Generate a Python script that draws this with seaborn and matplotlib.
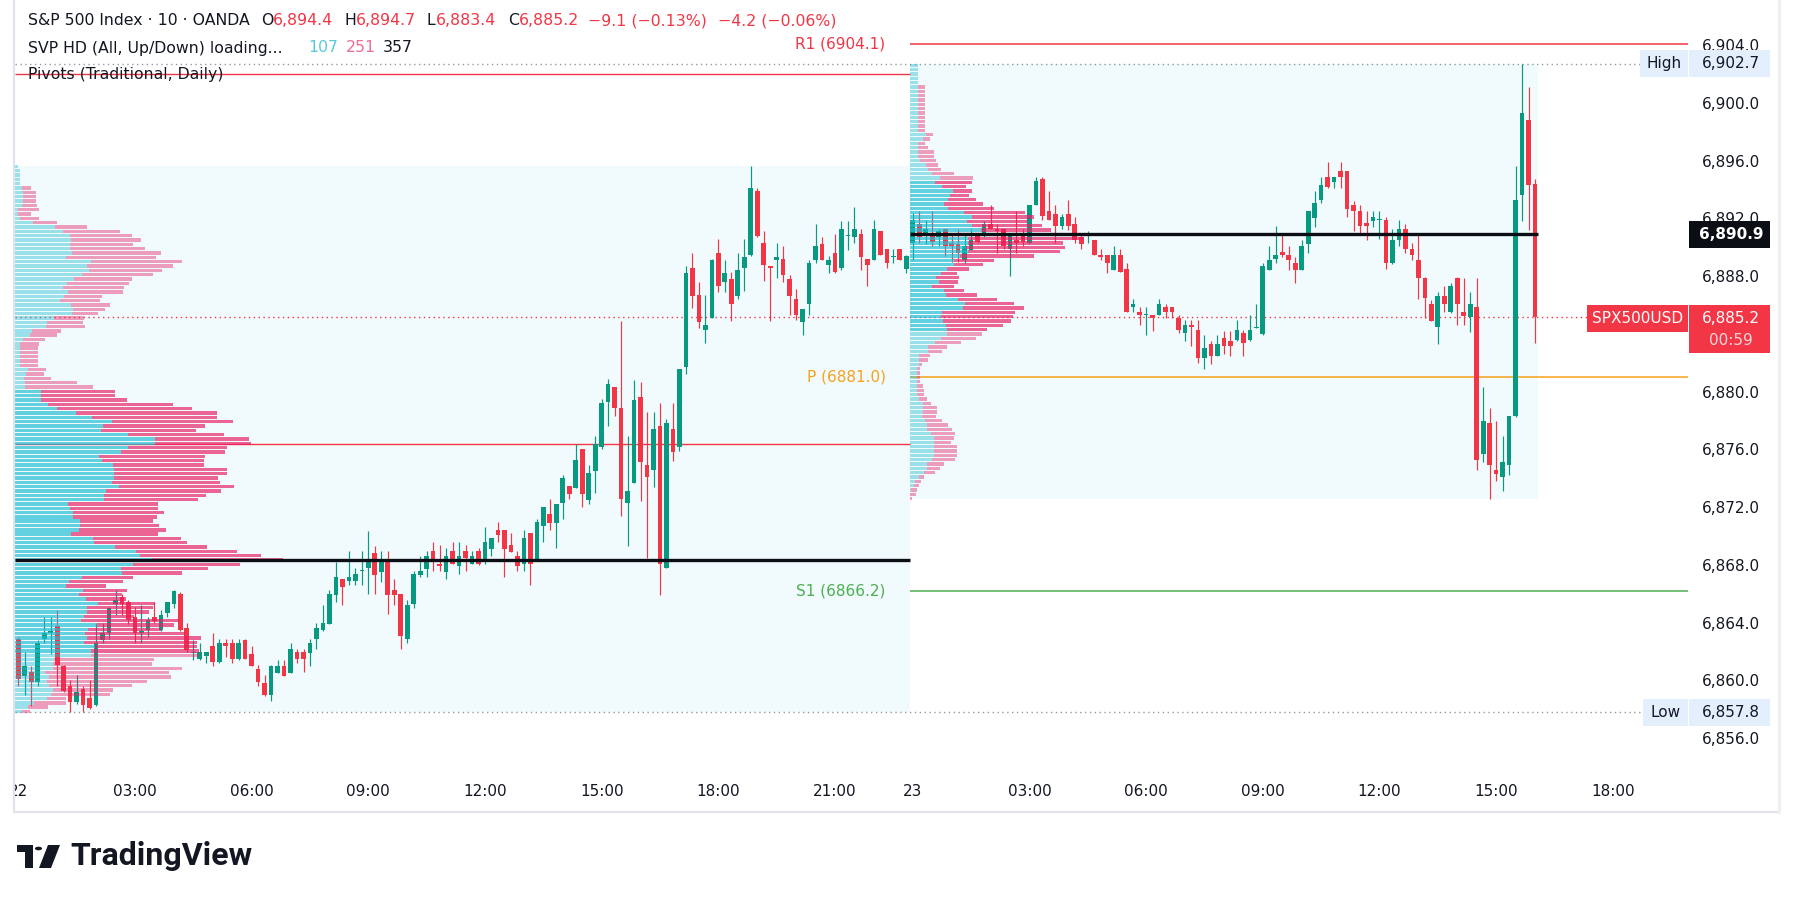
import numpy as np
import pandas as pd
import matplotlib
matplotlib.use("Agg")
import matplotlib.pyplot as plt
from matplotlib.colors import to_rgba
from matplotlib.patches import Rectangle, Polygon, Circle
import seaborn as sns

# ---------------- data ----------------
opens = [6862.9, 6860.3, 6860.6, 6859.9, 6862.9, 6863.3, 6863.8, 6861.0, 6859.6, 6858.5,
         6859.4, 6858.8, 6858.3, 6862.8, 6863.3, 6865.3, 6865.8, 6865.4, 6864.4, 6863.3,
         6863.5, 6864.4, 6863.5, 6864.7, 6865.3, 6866.0, 6863.6, 6861.9, 6861.5, 6861.7,
         6862.4, 6861.3, 6862.6, 6862.6, 6861.5, 6862.8, 6861.8, 6860.8, 6859.8, 6859.0,
         6860.5, 6861.0, 6860.5, 6862.0, 6862.0, 6861.9, 6862.9, 6863.5, 6863.9, 6865.9,
         6867.0, 6866.9, 6866.9, 6867.6, 6867.8, 6868.8, 6867.5, 6868.3, 6866.3, 6866.0,
         6862.9, 6865.3, 6867.3, 6867.7, 6869.0, 6868.1, 6867.5, 6869.0, 6867.9, 6869.0,
         6868.1, 6869.0, 6868.4, 6869.1, 6870.4, 6870.4, 6869.4, 6868.6, 6868.1, 6870.2,
         6868.4, 6870.7, 6871.5, 6870.9, 6872.3, 6873.5, 6873.3, 6876.0, 6872.5, 6874.5,
         6876.2, 6879.3, 6880.3, 6878.9, 6872.3, 6873.7, 6879.6, 6874.9, 6874.6, 6877.6,
         6867.8, 6877.4, 6876.2, 6881.7, 6888.6, 6886.7, 6884.3, 6885.1, 6889.6, 6887.6,
         6887.8, 6886.6, 6888.6, 6889.5, 6893.9, 6890.3, 6888.7, 6889.1, 6889.2, 6887.8,
         6886.4, 6884.8, 6886.1, 6889.1, 6890.2, 6888.8, 6889.6, 6888.6, 6890.8, 6890.7,
         6890.9, 6889.2, 6889.1, 6891.1, 6889.9, 6889.3, 6889.9, 6888.5, 6890.3, 6891.6,
         6890.9, 6890.9, 6890.7, 6891.3, 6890.3, 6890.2, 6889.1, 6889.8, 6890.9, 6890.9,
         6891.6, 6891.3, 6891.3, 6889.9, 6890.5, 6891.0, 6890.3, 6892.9, 6894.7, 6892.5,
         6892.3, 6891.5, 6892.3, 6891.6, 6890.7, 6890.8, 6890.5, 6889.5, 6889.5, 6888.4,
         6889.5, 6888.5, 6885.9, 6885.5, 6885.3, 6885.3, 6885.3, 6885.9, 6885.9, 6885.1,
         6884.1, 6884.6, 6884.3, 6882.3, 6883.3, 6882.5, 6883.7, 6883.5, 6883.6, 6884.1,
         6883.6, 6884.4, 6884.0, 6888.4, 6889.2, 6889.7, 6889.5, 6888.9, 6888.4, 6890.2,
         6892.0, 6893.3, 6894.9, 6894.5, 6895.3, 6895.3, 6892.9, 6892.5, 6891.7, 6891.8,
         6891.9, 6891.9, 6888.9, 6890.5, 6891.3, 6889.9, 6889.1, 6887.9, 6886.1, 6884.5,
         6886.6, 6885.5, 6887.9, 6885.5, 6885.2, 6885.9, 6875.7, 6877.8, 6874.6, 6874.1,
         6874.9, 6878.3, 6893.6, 6898.8, 6894.4]
highs = [6863.0, 6862.0, 6861.0, 6862.8, 6864.4, 6864.4, 6864.9, 6861.1, 6860.0, 6860.4,
         6859.6, 6860.0, 6864.0, 6864.0, 6865.1, 6866.3, 6866.0, 6865.6, 6865.1, 6865.2,
         6864.4, 6865.4, 6864.9, 6865.4, 6866.3, 6866.1, 6864.0, 6862.8, 6862.6, 6862.0,
         6863.3, 6862.9, 6862.9, 6862.9, 6862.9, 6862.9, 6862.4, 6861.1, 6860.4, 6861.1,
         6861.4, 6861.4, 6862.6, 6862.2, 6862.2, 6862.9, 6864.0, 6865.2, 6866.3, 6868.2,
         6867.0, 6869.0, 6867.8, 6869.0, 6870.35, 6869.3, 6869.0, 6869.0, 6867.0, 6866.0,
         6865.6, 6867.6, 6868.6, 6869.0, 6869.6, 6869.4, 6869.2, 6869.6, 6869.6, 6869.4,
         6869.0, 6869.2, 6870.6, 6869.9, 6871.0, 6870.4, 6870.2, 6869.0, 6870.4, 6870.2,
         6871.2, 6872.0, 6872.6, 6872.2, 6874.2, 6873.5, 6876.4, 6876.0, 6874.9, 6876.9,
         6879.5, 6880.9, 6880.3, 6884.9, 6876.9, 6880.8, 6880.7, 6878.6, 6878.6, 6879.2,
         6878.1, 6879.2, 6881.6, 6888.7, 6889.6, 6887.6, 6886.7, 6889.2, 6890.6, 6889.1,
         6888.3, 6889.6, 6890.6, 6895.6, 6894.1, 6891.1, 6888.7, 6890.3, 6890.1, 6888.1,
         6887.1, 6885.7, 6889.1, 6891.6, 6890.7, 6889.4, 6890.9, 6891.8, 6891.8, 6892.8,
         6891.3, 6889.2, 6891.9, 6891.1, 6889.9, 6889.9, 6889.9, 6889.5, 6892.4, 6892.5,
         6891.9, 6892.5, 6891.3, 6891.3, 6891.0, 6891.3, 6891.0, 6891.3, 6891.0, 6891.8,
         6892.9, 6891.6, 6891.3, 6890.9, 6892.5, 6891.3, 6892.9, 6894.9, 6894.9, 6893.9,
         6892.9, 6892.3, 6893.3, 6892.1, 6890.9, 6891.1, 6890.5, 6889.9, 6889.5, 6890.1,
         6889.9, 6888.9, 6886.4, 6885.9, 6885.9, 6885.3, 6886.4, 6886.1, 6885.9, 6885.3,
         6885.0, 6885.0, 6885.0, 6883.9, 6883.5, 6883.9, 6884.2, 6884.2, 6885.0, 6884.3,
         6885.3, 6886.1, 6888.9, 6890.1, 6891.5, 6890.9, 6890.1, 6889.3, 6890.5, 6892.5,
         6893.9, 6894.9, 6895.9, 6894.9, 6895.9, 6895.3, 6893.2, 6892.9, 6892.5, 6892.5,
         6892.5, 6892.1, 6891.3, 6891.9, 6891.6, 6890.3, 6890.9, 6887.95, 6886.35, 6886.9,
         6887.3, 6887.55, 6887.95, 6887.9, 6886.9, 6887.9, 6880.3, 6878.9, 6878.0, 6876.9,
         6878.3, 6895.6, 6902.7, 6901.1, 6894.7]
lows = [6859.6, 6859.0, 6858.2, 6859.6, 6862.6, 6861.8, 6859.6, 6859.2, 6857.8, 6858.4,
        6857.8, 6858.0, 6858.2, 6862.6, 6862.9, 6864.5, 6864.5, 6863.9, 6862.6, 6862.6,
        6863.0, 6864.0, 6863.4, 6864.4, 6865.0, 6863.4, 6862.0, 6861.4, 6861.4, 6861.2,
        6861.0, 6861.2, 6861.6, 6861.2, 6861.4, 6861.5, 6861.0, 6859.6, 6858.9, 6858.6,
        6860.5, 6860.3, 6860.5, 6861.2, 6860.6, 6861.0, 6862.2, 6863.4, 6863.9, 6865.4,
        6865.2, 6866.6, 6866.6, 6866.6, 6866.0, 6866.0, 6866.8, 6864.6, 6865.2, 6862.2,
        6862.6, 6865.0, 6867.2, 6867.2, 6867.6, 6867.6, 6867.0, 6868.1, 6867.4, 6867.6,
        6868.1, 6868.0, 6868.1, 6868.6, 6869.6, 6867.2, 6868.9, 6867.6, 6867.6, 6866.6,
        6868.4, 6869.6, 6870.4, 6869.2, 6871.2, 6872.6, 6873.3, 6872.0, 6872.2, 6873.0,
        6876.0, 6877.6, 6878.3, 6871.4, 6869.3, 6873.7, 6872.4, 6868.5, 6873.4, 6865.9,
        6867.8, 6875.2, 6875.9, 6881.2, 6885.8, 6884.4, 6883.4, 6885.1, 6886.9, 6886.9,
        6884.9, 6886.4, 6887.0, 6889.4, 6890.7, 6887.7, 6884.9, 6887.9, 6887.6, 6885.3,
        6885.0, 6883.9, 6885.3, 6888.9, 6889.1, 6888.2, 6888.2, 6888.4, 6889.8, 6890.3,
        6888.4, 6887.3, 6889.1, 6889.5, 6888.6, 6888.9, 6889.1, 6888.2, 6889.1, 6890.3,
        6890.2, 6890.1, 6890.1, 6889.4, 6889.0, 6889.0, 6888.9, 6889.8, 6890.3, 6890.7,
        6891.3, 6889.6, 6889.9, 6888.0, 6889.6, 6890.1, 6890.2, 6892.9, 6891.9, 6891.9,
        6890.3, 6891.3, 6891.2, 6890.3, 6889.9, 6890.3, 6889.5, 6889.1, 6888.2, 6888.4,
        6888.3, 6885.5, 6885.5, 6884.6, 6883.9, 6884.2, 6885.3, 6885.1, 6885.1, 6884.1,
        6883.5, 6883.2, 6882.0, 6881.6, 6881.9, 6882.5, 6882.6, 6882.5, 6883.5, 6882.5,
        6883.5, 6884.4, 6883.9, 6888.4, 6888.9, 6889.35, 6888.4, 6887.55, 6888.4, 6889.6,
        6891.4, 6893.1, 6894.1, 6894.1, 6894.1, 6892.1, 6891.1, 6890.9, 6890.5, 6891.4,
        6890.55, 6888.5, 6888.85, 6890.1, 6889.6, 6889.1, 6886.4, 6885.1, 6884.9, 6883.3,
        6885.5, 6885.45, 6884.6, 6884.6, 6884.15, 6874.6, 6875.1, 6872.6, 6873.8, 6873.1,
        6874.2, 6878.25, 6891.8, 6891.2, 6883.4]
closes = [6860.1, 6861.0, 6859.9, 6862.6, 6863.3, 6863.4, 6861.1, 6859.3, 6858.5, 6859.2,
          6858.3, 6858.1, 6862.6, 6863.3, 6865.0, 6865.6, 6865.3, 6864.2, 6863.3, 6863.4,
          6864.2, 6864.1, 6864.5, 6865.4, 6866.2, 6863.5, 6862.1, 6862.0, 6862.0, 6862.0,
          6861.3, 6862.6, 6862.4, 6861.5, 6862.6, 6861.5, 6861.0, 6859.9, 6859.0, 6861.0,
          6861.0, 6860.3, 6862.2, 6861.5, 6861.5, 6862.6, 6863.6, 6864.0, 6866.0, 6867.2,
          6866.5, 6867.2, 6867.4, 6867.6, 6868.3, 6867.3, 6868.2, 6865.9, 6865.9, 6863.1,
          6865.2, 6867.4, 6867.6, 6868.6, 6868.4, 6867.9, 6868.6, 6868.1, 6868.6, 6868.5,
          6868.6, 6868.1, 6869.6, 6869.9, 6870.1, 6869.1, 6868.9, 6867.9, 6869.9, 6868.1,
          6871.0, 6872.0, 6870.9, 6872.2, 6874.0, 6872.9, 6875.3, 6872.9, 6874.4, 6876.4,
          6879.2, 6880.5, 6878.9, 6872.6, 6873.1, 6879.4, 6875.1, 6874.1, 6877.4, 6868.1,
          6877.8, 6875.8, 6881.6, 6888.2, 6886.6, 6884.8, 6884.6, 6889.1, 6887.3, 6888.2,
          6886.1, 6888.4, 6889.3, 6894.1, 6890.8, 6888.8, 6888.6, 6889.3, 6888.1, 6886.6,
          6885.3, 6885.7, 6888.9, 6890.1, 6889.1, 6889.1, 6888.3, 6891.3, 6890.85, 6891.3,
          6889.3, 6888.8, 6891.3, 6889.5, 6888.9, 6889.35, 6889.1, 6889.4, 6891.9, 6890.7,
          6891.3, 6890.4, 6891.1, 6890.1, 6890.1, 6889.6, 6890.1, 6890.5, 6890.4, 6891.6,
          6891.3, 6891.1, 6890.1, 6890.9, 6890.3, 6890.4, 6892.9, 6894.6, 6892.2, 6891.9,
          6891.5, 6892.1, 6891.5, 6890.5, 6890.2, 6890.9, 6889.5, 6889.3, 6888.9, 6889.5,
          6888.3, 6885.5, 6886.1, 6885.3, 6885.4, 6885.1, 6886.1, 6885.5, 6885.5, 6884.3,
          6884.6, 6884.5, 6882.3, 6883.0, 6882.5, 6883.3, 6883.2, 6883.2, 6884.3, 6883.4,
          6884.3, 6884.5, 6888.7, 6889.1, 6889.5, 6889.45, 6889.1, 6888.4, 6890.1, 6892.5,
          6893.1, 6894.3, 6894.2, 6894.9, 6894.9, 6892.65, 6892.5, 6891.5, 6891.45, 6892.1,
          6891.9, 6888.9, 6890.5, 6891.3, 6889.9, 6889.45, 6887.9, 6886.5, 6884.9, 6886.6,
          6886.1, 6887.3, 6886.1, 6885.25, 6886.1, 6875.3, 6878.0, 6874.9, 6874.3, 6875.1,
          6878.3, 6893.3, 6899.3, 6894.3, 6885.2]

# session structure: Dec 22 (00:00-22:50) and Dec 23 (00:00 - now), 10-minute bars
day1_start = "2025-12-22 00:00"
day1_bars = 138
day2_start = "2025-12-23 00:00"

# volume profile, Dec 22 session (rows top -> bottom), up / down volume
left_up = [3, 5, 5, 5, 5, 7, 8, 8, 8, 7, 3, 3, 5, 18, 39, 47, 54, 55, 54, 54,
           56, 50, 75, 71, 73, 66, 58, 51, 47, 52, 48, 44, 55, 57, 56, 38, 32, 31, 17, 15,
           8, 5, 5, 5, 5, 5, 5, 13, 11, 9, 10, 10, 26, 26, 26, 33, 41, 60, 76, 96,
           87, 85, 112, 138, 138, 112, 105, 83, 86, 97, 98, 98, 98, 96, 103, 90, 88, 88, 52, 54,
           57, 57, 64, 64, 63, 55, 77, 78, 99, 119, 123, 135, 116, 105, 106, 66, 53, 50, 67, 63,
           70, 82, 71, 71, 68, 65, 81, 72, 69, 71, 68, 79, 75, 75, 38, 37, 37, 30, 34, 32,
           34, 37, 35, 32, 19, 13, 7]
left_down = [0, 0, 0, 0, 0, 9, 13, 13, 13, 15, 21, 13, 19, 23, 32, 57, 61, 69, 62, 74,
             88, 89, 90, 85, 72, 70, 57, 62, 61, 55, 38, 40, 39, 32, 26, 30, 35, 38, 28, 26,
             22, 19, 18, 18, 18, 18, 18, 18, 18, 26, 51, 67, 73, 73, 85, 123, 134, 139, 123, 119,
             101, 94, 94, 93, 95, 97, 102, 105, 101, 90, 111, 111, 102, 106, 113, 113, 101, 93, 89, 87,
             90, 83, 72, 78, 86, 86, 87, 92, 91, 100, 120, 130, 106, 86, 59, 50, 54, 40, 44, 43,
             40, 56, 65, 61, 49, 97, 76, 72, 99, 113, 112, 101, 107, 107, 99, 98, 128, 122, 120, 98,
             81, 60, 59, 18, 31, 20, 8]
left_rows_top, left_rows_bottom = 6895.6, 6857.85
left_value_area = (6861.75, 6880.05)

# volume profile, Dec 23 session (rows top -> bottom)
right_up = [8, 8, 8, 8, 8, 8, 8, 8, 8, 8, 8, 8, 8, 8, 8, 8, 16, 13, 8, 8,
            8, 8, 10, 16, 18, 22, 30, 25, 32, 43, 40, 38, 34, 38, 54, 62, 57, 62, 70, 80,
            58, 58, 56, 58, 50, 44, 44, 37, 31, 26, 29, 22, 34, 36, 48, 55, 53, 32, 31, 33,
            36, 37, 37, 31, 25, 18, 18, 9, 9, 9, 7, 7, 7, 7, 7, 7, 7, 9, 13, 13,
            13, 12, 15, 17, 17, 21, 24, 24, 24, 24, 24, 22, 17, 17, 14, 9, 5, 4, 1, 0, 0]
right_down = [0, 0, 0, 0, 0, 7, 7, 7, 7, 7, 7, 7, 7, 7, 7, 7, 7, 7, 7, 10,
              16, 16, 16, 12, 13, 22, 33, 37, 24, 19, 19, 28, 38, 45, 60, 61, 60, 69, 69, 106,
              114, 93, 97, 90, 73, 39, 28, 22, 16, 23, 19, 22, 20, 31, 38, 48, 60, 72, 71, 67,
              56, 39, 34, 35, 26, 19, 14, 11, 9, 3, 3, 3, 3, 3, 6, 7, 7, 8, 8, 14,
              14, 14, 17, 21, 25, 24, 20, 17, 23, 23, 23, 23, 17, 13, 11, 5, 6, 5, 6, 6, 2]
right_rows_top, right_rows_bottom = 6902.6, 6872.6
right_value_area = (6884.2, 6894.75)

# daily pivots
prev_day_levels = [6902.0, 6876.4]
pivot_names = ["R1", "P", "S1"]
pivot_values = [6904.1, 6881.0, 6866.2]

price_ticks = [6856.0, 6860.0, 6864.0, 6868.0, 6872.0, 6876.0, 6880.0,
               6884.0, 6888.0, 6892.0, 6896.0, 6900.0, 6904.0]

# ---------------- style ----------------
sns.set_theme(style="white")
plt.rcParams['font.family'] = ['DejaVu Sans']

W, H = 1793, 902
GREEN, RED = "#089981", "#f23645"
DARK = "#131722"
UPC, DNC = "#1fbcd2", "#e91e63"
SESS_BG = "#f1fafd"
PIV_COL = {"R1": "#f23645", "P": "#f7a21b", "S1": "#4caf50"}
FS = 11

fig = plt.figure(figsize=(W / 100, H / 100), dpi=100)
fig.patch.set_facecolor("white")

PL, PR, PT, PB = 15, 1688, 0, 772
ax = fig.add_axes([PL / W, 1 - PB / H, (PR - PL) / W, (PB - PT) / H])
XMIN, XMAX = -0.51, 257.6
YMIN, YMAX = 6853.66, 6907.13
ax.set_xlim(XMIN, XMAX)
ax.set_ylim(YMIN, YMAX)
ax.set_facecolor("white")
for s in ax.spines.values():
    s.set_visible(False)
ax.grid(False)
ax.set_xticks([])

o = np.array(opens); h = np.array(highs); l = np.array(lows); c = np.array(closes)
n = len(o)
idx = np.arange(n)
last = c[-1]
ppx = (PB - PT) / (YMAX - YMIN)  # pixels per price point

# price scale (label hidden where the last-price tag covers it)
ax.yaxis.tick_right()
ax.set_yticks(price_ticks)
ax.set_yticklabels(["" if (last - 36 / ppx) < v < (last + 11.5 / ppx) else f"{v:,.1f}"
                    for v in price_ticks])
ax.tick_params(axis="y", length=0, pad=10, labelsize=FS, labelcolor=DARK)

# time index
t1 = pd.date_range(day1_start, periods=day1_bars, freq="10min")
t2 = pd.date_range(day2_start, periods=int(XMAX) + 2 - day1_bars, freq="10min")
times = t1.append(t2)

s1 = (-0.5, day1_bars - 0.5)
s2 = (day1_bars - 0.5, n - 0.5)

# session backgrounds
for (x0, x1), seg in [(s1, slice(0, day1_bars)), (s2, slice(day1_bars, n))]:
    hi, lo = h[seg].max(), l[seg].min()
    ax.add_patch(Rectangle((x0, lo), x1 - x0, hi - lo, facecolor=SESS_BG, lw=0, zorder=0.5))

# pivots
for lv in prev_day_levels:
    ax.hlines(lv, s1[0], s1[1], color="#f23645", lw=1.0, zorder=1)
for name, val in zip(pivot_names, pivot_values):
    ax.hlines(val, s2[0], XMAX, color=PIV_COL[name], lw=1.1, zorder=1)
    ax.text(s2[0] - 3.7, val, f"{name} ({val:.1f})", color=PIV_COL[name], fontsize=FS,
            ha="right", va="center", zorder=6)

# candles
up = c >= o
cols = np.where(up, GREEN, RED)
ax.vlines(idx, l, h, colors=cols, lw=0.85, zorder=3)
ax.bar(idx, np.maximum(np.abs(c - o), 0.07), bottom=np.minimum(o, c), width=0.72,
       color=cols, lw=0, zorder=3)


def draw_profile(x0, x1, top, bottom, upv, dnv, va):
    upv = np.array(upv, float); dnv = np.array(dnv, float)
    m = len(upv)
    centers = np.linspace(top, bottom, m)
    step = (top - bottom) / (m - 1)
    tot = upv + dnv
    scale = 0.30 * (x1 - x0) / tot.max()
    in_va = (centers >= va[0]) & (centers <= va[1])
    a = np.where(in_va, 0.68, 0.42)
    ucol = [to_rgba(UPC, ai) for ai in a]
    dcol = [to_rgba(DNC, ai) for ai in a]
    ax.barh(centers, upv * scale, left=x0, height=step * 0.78, color=ucol, lw=0, zorder=4)
    ax.barh(centers, dnv * scale, left=x0 + upv * scale, height=step * 0.78, color=dcol, lw=0, zorder=4)
    poc = centers[np.argmax(tot)]
    ax.hlines(poc, x0, x1, color="#0c0e15", lw=2.4, zorder=5)
    return poc


draw_profile(s1[0], s1[1], left_rows_top, left_rows_bottom, left_up, left_down, left_value_area)
poc_r = draw_profile(s2[0], s2[1], right_rows_top, right_rows_bottom, right_up, right_down, right_value_area)

hi_all, lo_all = h.max(), l.min()


def px_to_x(px):
    return XMIN + (px - PL) / (PR - PL) * (XMAX - XMIN)


ax.hlines(hi_all, XMIN, px_to_x(1640), color="#9598a1", lw=1.0, linestyles=(0, (1, 2.5)), zorder=2)
ax.hlines(lo_all, XMIN, px_to_x(1643), color="#9598a1", lw=1.0, linestyles=(0, (1, 2.5)), zorder=2)
ax.hlines(last, XMIN, px_to_x(1587), color=RED, lw=1.0, linestyles=(0, (1, 2.5)), zorder=2)

fig.canvas.draw()


def py(price):
    return H - ax.transData.transform((0, price))[1]


def box(x0, x1, ytop, ybot, color, z=10):
    fig.add_artist(Rectangle((x0 / W, 1 - ybot / H), (x1 - x0) / W, (ybot - ytop) / H,
                             transform=fig.transFigure, facecolor=color, lw=0, zorder=z))


def ftext(x, y, s, **kw):
    kw.setdefault("fontsize", FS)
    kw.setdefault("ha", "center")
    kw.setdefault("va", "center")
    fig.text(x / W, 1 - y / H, s, zorder=11, **kw)


AXC = 1731
yp = py(poc_r)
box(1689, 1770, yp - 13.5, yp + 13.5, "#0c0e15")
ftext(AXC, yp, f"{poc_r:,.1f}", color="white", fontweight="bold")
for val, name, xl in [(hi_all, "High", 1640), (lo_all, "Low", 1643)]:
    yv = py(val)
    box(xl, 1688, yv - 13.5, yv + 13.5, "#e3effd")
    box(1689, 1770, yv - 13.5, yv + 13.5, "#e3effd")
    ftext((xl + 1688) / 2, yv, name, color=DARK)
    ftext(AXC, yv, f"{val:,.1f}", color=DARK)
yl = py(last)
box(1587, 1688, yl - 11.5, yl + 15.5, RED)
ftext(1637.5, yl + 2, "SPX500USD", color="white")
box(1689, 1770, yl - 11.5, yl + 36, RED)
ftext(AXC, yl + 1.5, f"{last:,.1f}", color="white")
ftext(AXC, yl + 23.5, "00:59", color=(1, 1, 1, 0.8))

# time axis
ax_t = fig.add_axes([PL / W, 1 - 812 / H, (PR - PL) / W, 40 / H])
ax_t.set_xlim(XMIN, XMAX)
ax_t.set_ylim(0, 1)
ax_t.axis("off")
for i, t in enumerate(times[: int(XMAX) + 1]):
    if t.minute == 0 and t.hour % 3 == 0:
        lab = f"{t.day}" if t.hour == 0 else t.strftime("%H:%M")
        ax_t.text(i, 0.5, lab, ha="center", va="center", fontsize=FS, color=DARK, clip_on=True)

# widget frame
fc = "#e0e3eb"
fig.add_artist(plt.Line2D([14 / W, 14 / W], [1, 1 - 812 / H], color=fc, lw=1.5, transform=fig.transFigure))
fig.add_artist(plt.Line2D([14 / W, 1779 / W], [1 - 812 / H, 1 - 812 / H], color=fc, lw=1.5, transform=fig.transFigure))
fig.add_artist(plt.Line2D([1779 / W, 1779 / W], [1, 1 - 812 / H], color="#eef0f4", lw=2.5, transform=fig.transFigure))

# header legend
renderer = fig.canvas.get_renderer()
HFS = 11.3


def seq(x, y, parts, size=HFS):
    for s, col in parts:
        t = fig.text(x / W, 1 - y / H, s, color=col, fontsize=size, ha="left", va="center", zorder=12)
        x = t.get_window_extent(renderer).x1
    return x


chg = c[-1] - c[-2]
seq(28, 20.6, [("S&P 500 Index · 10 · OANDA", DARK)])
seq(261, 20.6, [("O", DARK), (f"{o[-1]:,.1f}", RED)])
seq(344, 20.6, [("H", DARK), (f"{h[-1]:,.1f}", RED)])
seq(427, 20.6, [("L", DARK), (f"{l[-1]:,.1f}", RED)])
seq(508, 20.6, [("C", DARK), (f"{c[-1]:,.1f}", RED)])
xe = seq(588, 20.6, [(f"−{abs(chg):.1f} (−{abs(chg) / c[-2] * 100:.2f}%)", RED)])
seq(xe + 11, 20.6, [("−4.2 (−0.06%)", RED)])
seq(28, 48, [("SVP HD (All, Up/Down) loading...", DARK)])
seq(308, 48, [("107", "#5bc8dc")])
seq(346, 48, [("251", "#f06d94")])
seq(383, 48, [("357", DARK)])
seq(28, 74.3, [("Pivots (Traditional, Daily)", DARK)])


# TradingView logo
def fpoly(pts, **kw):
    fig.add_artist(Polygon([(x / W, 1 - y / H) for x, y in pts], closed=True,
                           transform=fig.transFigure, **kw))


fpoly([(17, 845), (33, 845), (33, 868), (25, 868), (25, 852), (17, 852)], facecolor=DARK, lw=0)
fig.add_artist(Circle((38.5 / W, 1 - 848.5 / H), 3.6 / W, transform=fig.transFigure, facecolor=DARK, lw=0))
fpoly([(48, 845), (60, 845), (51, 868), (39, 868)], facecolor=DARK, lw=0)
fig.text(70 / W, 1 - 856 / H, "TradingView", fontsize=23, fontweight="bold", color=DARK,
         ha="left", va="center", family=["Roboto", "DejaVu Sans"])

fig.savefig("out.png", dpi=100, facecolor="white")
